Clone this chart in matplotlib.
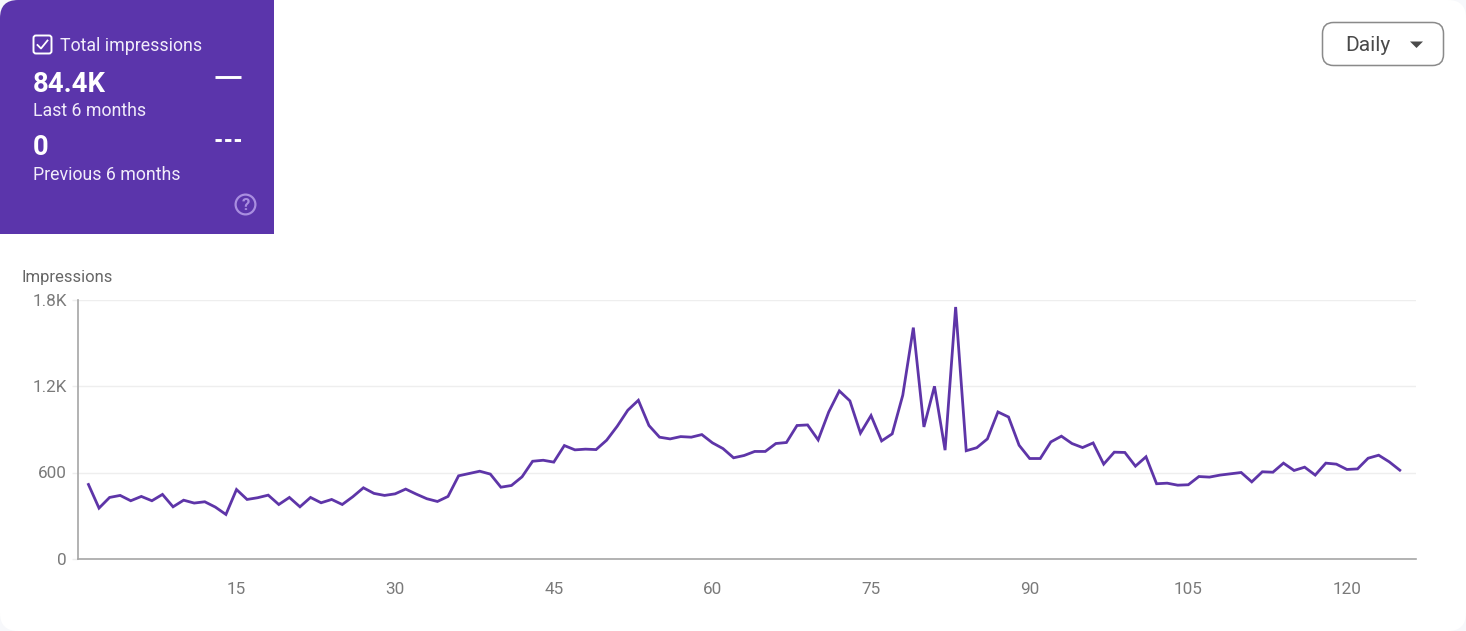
"""Search Console style impressions card: purple summary tile over a daily line."""

import matplotlib

matplotlib.use("Agg")
import matplotlib.patches as mpatches
import matplotlib.pyplot as plt
import numpy as np

plt.rcParams["font.family"] = ["Roboto", "DejaVu Sans"]

W, H = 1466, 631
PURPLE = "#5b35ab"
LINE = "#5e35a8"
GRID = "#eeeeee"
AXIS = "#a6a6a6"
TICK_TEXT = "#7a7a7a"

# Impressions per day (day 1 .. day 125).
impressions = [
    517, 353, 427, 441, 404, 434, 404, 448, 362, 408,
    388, 397, 360, 309, 482, 413, 425, 443, 378, 427,
    362, 427, 390, 413, 378, 432, 494, 455, 441, 452,
    485, 450, 418, 399, 434, 577, 593, 609, 589, 498,
    510, 570, 678, 685, 672, 787, 757, 762, 759, 824,
    921, 1032, 1101, 926, 845, 833, 849, 845, 863, 806,
    766, 702, 718, 746, 746, 801, 808, 926, 930, 826,
    1020, 1166, 1097, 873, 995, 819, 868, 1136, 1605, 916,
    1198, 755, 1748, 751, 772, 833, 1020, 985, 789, 697,
    697, 812, 852, 801, 773, 805, 658, 741, 739, 644,
    709, 522, 526, 512, 515, 572, 568, 582, 591, 600,
    535, 605, 602, 665, 614, 637, 582, 665, 658, 621,
    625, 699, 720, 674, 616,
]
y_ticks = [0, 600, 1200, 1800]
y_tick_labels = ["0", "600", "1.2K", "1.8K"]
x_ticks = [15, 30, 45, 60, 75, 90, 105, 120]

fig = plt.figure(figsize=(W / 100, H / 100), dpi=100, facecolor="#f7f8fb")

# Overlay in pixel coordinates for the card, tile and dropdown.
bg = fig.add_axes([0, 0, 1, 1], zorder=0)
bg.set_xlim(0, W)
bg.set_ylim(H, 0)
bg.axis("off")
card = mpatches.FancyBboxPatch(
    (0, 0), W, H, boxstyle="round,pad=0,rounding_size=18",
    facecolor="white", edgecolor="none",
)
bg.add_patch(card)
tile = mpatches.Rectangle((0, 0), 274, 234, facecolor=PURPLE, edgecolor="none")
bg.add_patch(tile)
tile.set_clip_path(card)  # tile takes the card's rounded top-left corner

# checkbox + tick
bg.add_patch(mpatches.FancyBboxPatch(
    (33.5, 35.5), 18, 18, boxstyle="round,pad=0,rounding_size=2.5",
    facecolor="none", edgecolor="white", linewidth=1.4,
))
bg.plot([37.5, 41, 47.5], [45, 48.5, 40.5], color="white", lw=1.3)

bg.text(60.5, 45.8, "Total impressions", color="#f1ecfa", fontsize=12.75, va="center")
bg.text(33, 84, "84.4K", color="white", fontsize=19.8, weight="bold", va="center")
bg.text(33, 111.5, "Last 6 months", color="#f1ecfa", fontsize=12.75, va="center")
bg.text(33, 147.5, "0", color="white", fontsize=19.8, weight="bold", va="center")
bg.text(33, 174.5, "Previous 6 months", color="#f1ecfa", fontsize=12.75, va="center")
bg.plot([215, 241], [77, 77], color="white", lw=2.1, solid_capstyle="butt")
bg.plot([215, 240.5], [140.3, 140.3], color="white", lw=2.1, dashes=(2.15, 1.15))
# help icon
bg.add_patch(mpatches.Circle((245.5, 204.5), 9.9, facecolor="none",
                             edgecolor="#a98ee0", linewidth=1.6))
bg.text(245.5, 205.5, "?", color="#a98ee0", fontsize=12, weight="bold",
        ha="center", va="center")

# Daily dropdown
bg.add_patch(mpatches.FancyBboxPatch(
    (1322.5, 22.5), 121, 43, boxstyle="round,pad=0,rounding_size=11",
    facecolor="white", edgecolor="#8a8a8a", linewidth=1.1,
))
bg.text(1345.5, 45.5, "Daily", color="#4a4a4a", fontsize=15, va="center")
bg.add_patch(mpatches.Polygon([[1410, 41.5], [1423, 41.5], [1416.5, 48]],
                              facecolor="#4a4a4a", edgecolor="none"))
bg.text(21.5, 277.5, "Impressions", color="#666666", fontsize=12, va="center")

# Line chart axes; pixel box 78..1416 x 299.5..559
ax = fig.add_axes([78 / W, 1 - 559 / H, (1416 - 78) / W, (559 - 299.5) / H],
                  zorder=1, facecolor="none")
days = np.arange(1, len(impressions) + 1)
ax.plot(days, impressions, color=LINE, lw=2.0, solid_joinstyle="miter", zorder=3)
ax.set_xlim(0.013, 126.53)
ax.set_ylim(0, 1800)
ax.set_yticks(y_ticks, y_tick_labels)
ax.set_xticks(x_ticks)
ax.grid(axis="y", color=GRID, linewidth=1)
ax.set_axisbelow(True)
for side in ("top", "right"):
    ax.spines[side].set_visible(False)
for side in ("left", "bottom"):
    ax.spines[side].set_color(AXIS)
    ax.spines[side].set_linewidth(1.2)
ax.tick_params(axis="x", length=0, pad=16.5, labelsize=12.3, labelcolor=TICK_TEXT)
ax.tick_params(axis="y", length=4.5, width=1, color=GRID, pad=3.5,
               labelsize=12.3, labelcolor=TICK_TEXT)

fig.savefig("out.png", dpi=100, facecolor=fig.get_facecolor())
